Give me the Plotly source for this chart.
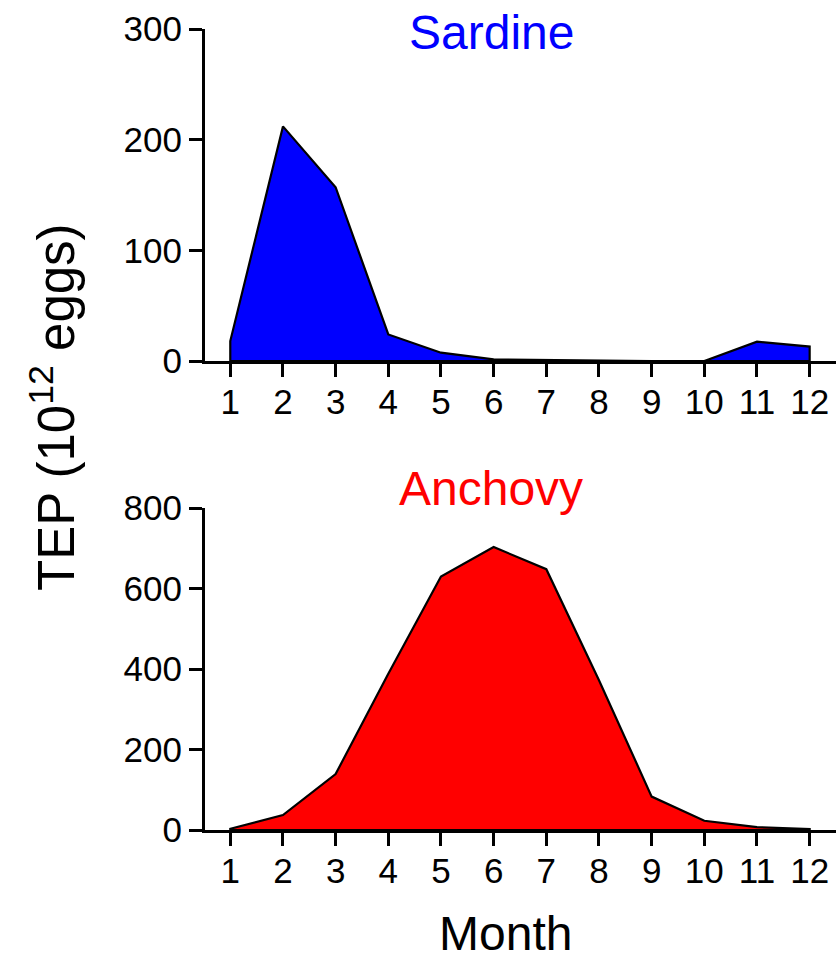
import plotly.graph_objects as go

months = list(range(1, 13))
month_labels = [str(m) for m in months]
sardine = [18, 212, 157, 24, 7.5, 1.5, 1, 0.3, 0, 0, 17.5, 13]
anchovy = [3, 37, 139, 388, 630, 703, 648, 372, 83, 23, 7, 2.5]

W, H = 838, 961
FONT = "Arial, Liberation Sans, sans-serif"

fig = go.Figure()

def add_area(vals, color, xa, ya):
    xs = [months[0]] + months + [months[-1], months[0]]
    ys = [0] + vals + [0, 0]
    fig.add_trace(go.Scatter(x=xs, y=ys, fill="toself", fillcolor=color,
                             mode="lines", line=dict(color="black", width=2.2),
                             xaxis=xa, yaxis=ya, showlegend=False, hoverinfo="skip"))

add_area(sardine, "#0000FF", "x", "y")
add_area(anchovy, "#FF0000", "x2", "y2")

xdom = [205 / W, 836 / W]
axis_common = dict(showline=True, linecolor="black", linewidth=3, ticks="outside",
                   tickcolor="black", tickwidth=3, ticklen=13, showgrid=False, zeroline=False,
                   tickfont=dict(family=FONT, size=35, color="black"))

fig.update_layout(
    width=W, height=H, margin=dict(l=0, r=0, t=0, b=0, autoexpand=False),
    paper_bgcolor="white", plot_bgcolor="white",
    xaxis=dict(domain=xdom, range=[0.52, 12.5], tickvals=months, ticktext=month_labels,
               anchor="y", ticklabelstandoff=-5, **axis_common),
    yaxis=dict(domain=[(H - 361) / H, (H - 29) / H], range=[0, 300], tickvals=[0, 100, 200, 300],
               anchor="x", **axis_common),
    xaxis2=dict(domain=xdom, range=[0.52, 12.5], tickvals=months, ticktext=month_labels,
                anchor="y2", ticklabelstandoff=-5, **axis_common),
    yaxis2=dict(domain=[(H - 830) / H, (H - 508) / H], range=[0, 800],
                tickvals=[0, 200, 400, 600, 800], anchor="x2", **axis_common),
    annotations=[
        dict(text="Sardine", x=491 / W, y=(H - 33) / H, xref="paper", yref="paper",
             showarrow=False, font=dict(family=FONT, size=48, color="#0000FF"),
             xanchor="center", yanchor="middle"),
        dict(text="Anchovy", x=491 / W, y=(H - 488) / H, xref="paper", yref="paper",
             showarrow=False, font=dict(family=FONT, size=48, color="#FF0000"),
             xanchor="center", yanchor="middle"),
        dict(text="TEP (10<sup>12</sup> eggs)", x=53 / W, y=(H - 407) / H, xref="paper", yref="paper",
             showarrow=False, textangle=-90, font=dict(family=FONT, size=51, color="black"),
             xanchor="center", yanchor="middle"),
        dict(text="Month", x=505 / W, y=(H - 933) / H, xref="paper", yref="paper",
             showarrow=False, font=dict(family=FONT, size=48, color="black"),
             xanchor="center", yanchor="middle"),
    ],
)

fig.write_html("out.html")
